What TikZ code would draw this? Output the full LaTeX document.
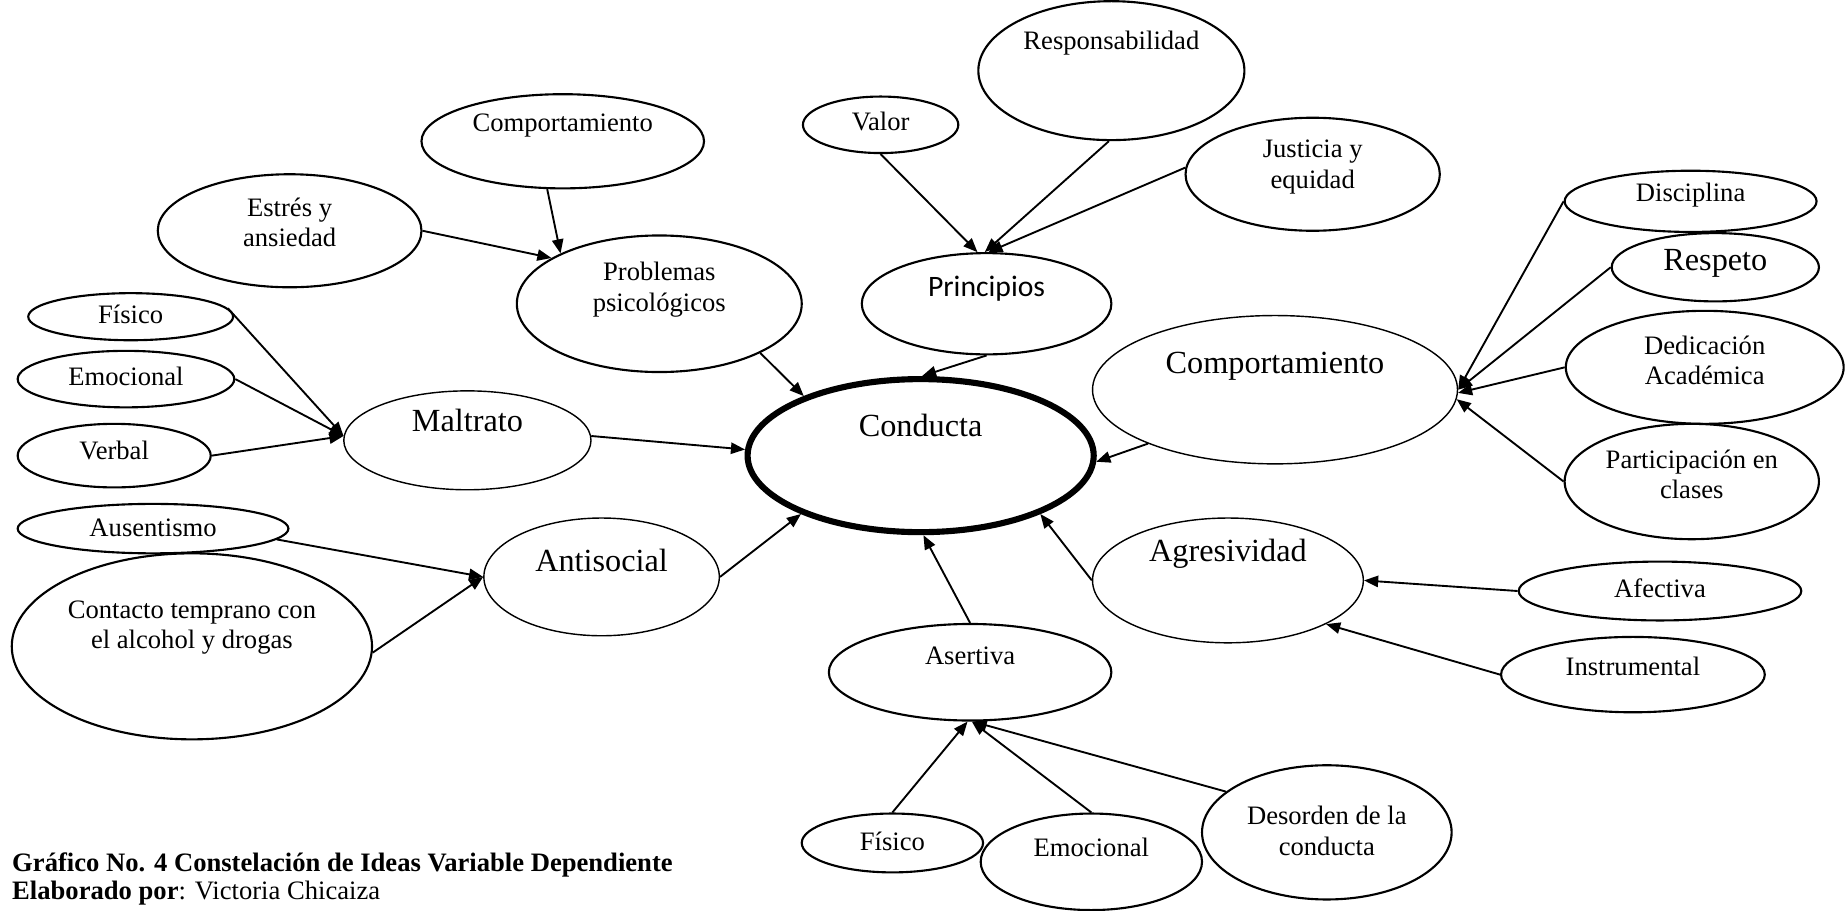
\documentclass[tikz,border=0pt]{standalone}
\usepackage{fontspec}
\setmainfont{Liberation Serif}
\newfontfamily\calibrifont{Carlito}
\usetikzlibrary{shapes.geometric,arrows.meta}
\begin{document}
\begin{tikzpicture}[x=0.5pt,y=-0.5pt,
  ell/.style={draw, ellipse, inner sep=0pt, line width=0.9pt},
  lite/.style={line width=0.6pt},
  heavy/.style={line width=2.6pt},
  sz/.style 2 args={minimum width=#1pt, minimum height=#2pt},
  small/.style={font=\fontsize{11.3}{13}\selectfont, align=center, inner sep=0pt},
  large/.style={font=\fontsize{13.7}{16}\selectfont, align=center, inner sep=0pt},
  sans/.style={font=\calibrifont\fontsize{12.6}{14}\selectfont, inner sep=0pt},
  con/.style={line width=0.8pt, -{Triangle[length=6pt,width=4.8pt]}},
  captxt/.style={font=\fontsize{11.3}{13}\selectfont, anchor=base west, inner sep=0pt},
]
\useasboundingbox (0,0) rectangle (1568,773);

% ellipses
\node[ell, sz={113}{59}] (resp) at (944,60) {};
\node[ell, sz={66}{24}] (valor) at (748,106) {};
\node[ell, sz={108}{48}] (just) at (1115,148) {};
\node[ell, sz={120}{40}] (comp1) at (478,120) {};
\node[ell, sz={112}{48}] (estres) at (246,196) {};
\node[ell, sz={121}{58}] (prob) at (560,258) {};
\node[ell, sz={106}{43}] (princ) at (838,258) {};
\node[ell, heavy, sz={147}{65}] (cond) at (782,387) {};
\node[ell, lite, sz={155}{63}] (comp2) at (1083,331) {};
\node[ell, sz={107}{26}] (disc) at (1436,171) {};
\node[ell, sz={88}{29}] (respeto) at (1457,227) {};
\node[ell, sz={118}{48}] (dedic) at (1448,312) {};
\node[ell, sz={108}{49}] (partic) at (1437,409) {};
\node[ell, sz={87}{20}] (fis1) at (111,269) {};
\node[ell, sz={92}{24}] (emo1) at (107,322) {};
\node[ell, sz={82}{27}] (verbal) at (97,387) {};
\node[ell, lite, sz={105}{42}] (maltr) at (397,374) {};
\node[ell, sz={115}{21}] (ausen) at (130,449) {};
\node[ell, sz={153}{79}] (contacto) at (163,549) {};
\node[ell, lite, sz={100}{50}] (antis) at (511,490) {};
\node[ell, lite, sz={115}{53}] (agres) at (1043,493) {};
\node[ell, sz={120}{25}] (afect) at (1410,502) {};
\node[ell, sz={112}{32}] (instr) at (1387,573) {};
\node[ell, sz={120}{41}] (asert) at (824,571) {};
\node[ell, sz={77}{25}] (fis2) at (758,716) {};
\node[ell, sz={94}{41}] (emo2) at (927,732) {};
\node[ell, sz={106}{57}] (desord) at (1127,707) {};

% texts
\node[small] (resp-t) at (944,37) {Responsabilidad};
\node[small] (valor-t) at (748,103) {Valor};
\node[small] (just-t) at (1115,142) {Justicia y\\equidad};
\node[small] (comp1-t) at (478,107) {Comportamiento};
\node[small] (estres-t) at (246,189) {Estrés y\\ansiedad};
\node[small] (prob-t) at (560,246) {Problemas\\psicológicos};
\node[sans] (princ-t) at (838,245) {Principios};
\node[large] (cond-t) at (782,361) {Conducta};
\node[large] (comp2-t) at (1083,311) {Comportamiento};
\node[small] (disc-t) at (1436,166) {Disciplina};
\node[large] (respeto-t) at (1457,224) {Respeto};
\node[small] (dedic-t) at (1448,306) {Dedicación\\Académica};
\node[small] (partic-t) at (1437,403) {Participación en\\clases};
\node[small] (fis1-t) at (111,267) {Físico};
\node[small] (emo1-t) at (107,320) {Emocional};
\node[small] (verbal-t) at (97,383) {Verbal};
\node[large] (maltr-t) at (397,357) {Maltrato};
\node[small] (ausen-t) at (130,448) {Ausentismo};
\node[small] (contacto-t) at (163,533) {Contacto temprano con\\el alcohol y drogas};
\node[large] (antis-t) at (511,476) {Antisocial};
\node[large] (agres-t) at (1043,470) {Agresividad};
\node[small] (afect-t) at (1410,500) {Afectiva};
\node[small] (instr-t) at (1387,566) {Instrumental};
\node[small] (asert-t) at (824,557) {Asertiva};
\node[small] (fis2-t) at (758,715) {Físico};
\node[small] (emo2-t) at (927,720) {Emocional};
\node[small] (desord-t) at (1127,706) {Desorden de la\\conducta};

% caption
\node[captxt] (cap1) at (10,740) {\bfseries Gráfico No. 4 Constelación de Ideas Variable Dependiente};
\node[captxt] (cap2) at (10,764) {\textbf{Elaborado por}: Victoria Chicaiza};

% connectors
\draw[con] (comp1.-108) -- (prob.153);
\draw[con] (estres.0) -- (prob.157);
\draw[con] (prob.-26) -- (cond.153);
\draw[con] (valor.-90) -- (princ.100);
\draw[con] (resp.-92) -- (princ.92);
\draw[con] (just.177) -- (princ.88);
\draw[con] (princ.-90) -- (cond.89);
\draw[con] (fis1.5) -- (maltr.178);
\draw[con] (emo1.0) -- (maltr.178);
\draw[con] (verbal.0) -- (maltr.178);
\draw[con] (maltr.2) -- (cond.178);
\draw[con] (ausen.-5) -- (antis.180);
\draw[con] (contacto.-2) -- (antis.180);
\draw[con] (antis.0) -- (cond.206);
\draw[con] (comp2.203) -- (cond.-2);
\draw[con] (disc.180) -- (comp2.0);
\draw[con] (respeto.180) -- (comp2.0);
\draw[con] (dedic.180) -- (comp2.-1);
\draw[con] (partic.180) -- (comp2.-3);
\draw[con] (agres.180) -- (cond.-26);
\draw[con] (afect.180) -- (agres.0);
\draw[con] (instr.180) -- (agres.-24);
\draw[con] (asert.90) -- (cond.-88);
\draw[con] (fis2.90) -- (asert.-93);
\draw[con] (emo2.90) -- (asert.-88);
\draw[con] (desord.158) -- (asert.-87);
\end{tikzpicture}
\end{document}
